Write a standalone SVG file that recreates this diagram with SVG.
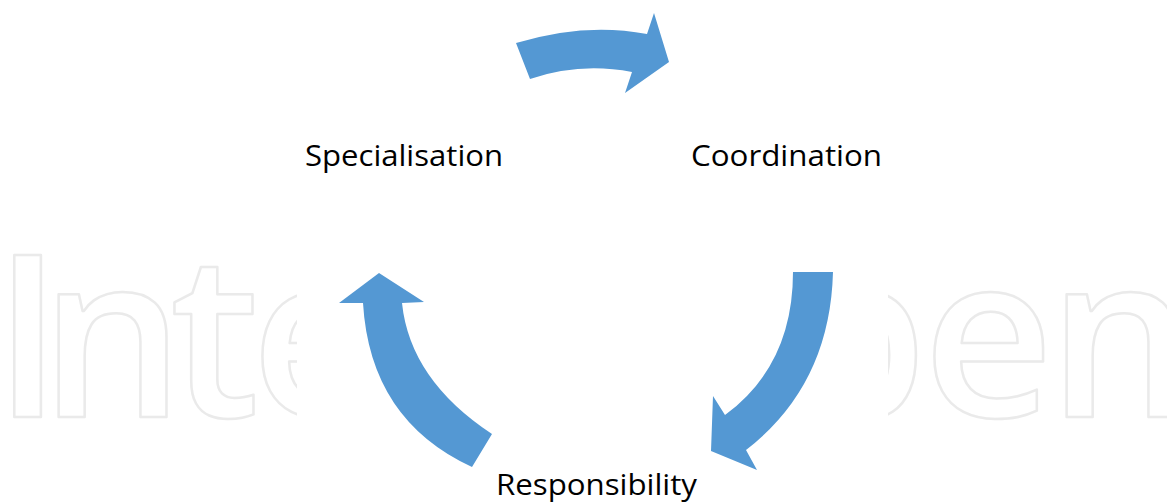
<svg xmlns="http://www.w3.org/2000/svg" width="1167" height="503" viewBox="0 0 1167 503">
  <defs>
    <style>
      .mark { font-family: "Open Sans", "DejaVu Sans", sans-serif; font-size: 227px; font-weight: 600; fill: #ffffff; stroke: #eaeaea; stroke-width: 2.5; stroke-linejoin: round; }
      .label { font-family: "Open Sans", "Liberation Sans", sans-serif; font-size: 30px; fill: #000000; }
      .arrow { fill: #5498d3; }
    </style>
    <clipPath id="clipLeft"><rect x="0" y="0" width="297" height="503"/></clipPath>
    <clipPath id="clipRight"><rect x="888" y="0" width="279" height="503"/></clipPath>
  </defs>

  <rect width="1167" height="503" fill="#ffffff"/>

  <!-- background watermark lettering, hollow outlines -->
  <g id="watermark">
    <g clip-path="url(#clipLeft)">
      <text class="mark" x="-7" y="417">I</text>
      <text class="mark" x="40" y="417">n</text>
      <text class="mark" x="170" y="417">t</text>
      <text class="mark" x="251" y="417">e</text>
    </g>
    <g clip-path="url(#clipRight)">
      <text class="mark" x="786" y="417">p</text>
      <text class="mark" x="923" y="417">e</text>
      <text class="mark" x="1048" y="417">n</text>
    </g>
  </g>

  <!-- curved block arrows of the cycle -->
  <g id="connectors">
    <path class="arrow" d="M516,43 Q585,22 647,34 L654,13 L669,62 L625,93 L632,72 Q580,62 530,79 Z"/>
    <path class="arrow" d="M793,272 L833,272 Q830,385 746,450 L757,470 L711,451 L713,396 L725,415 Q793,365 793,272 Z"/>
    <path class="arrow" d="M472,467 Q370,420 363,303 L339,303 L379,273 L424,302 L402,303 Q410,380 492,434 Z"/>
  </g>

  <g id="node-specialisation">
    <text class="label" x="305" y="166" textLength="198" lengthAdjust="spacingAndGlyphs">Specialisation</text>
  </g>
  <g id="node-coordination">
    <text class="label" x="691" y="166" textLength="191" lengthAdjust="spacingAndGlyphs">Coordination</text>
  </g>
  <g id="node-responsibility">
    <text class="label" x="496" y="495" textLength="201" lengthAdjust="spacingAndGlyphs">Responsibility</text>
  </g>
</svg>
